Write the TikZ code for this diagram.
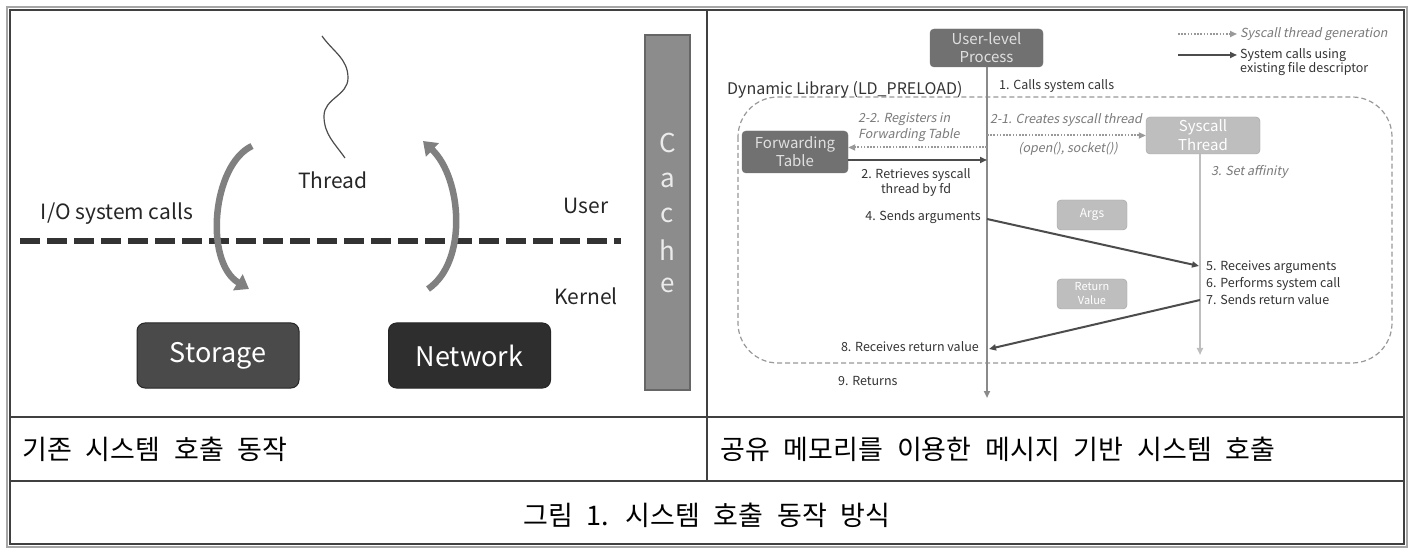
\documentclass[tikz,border=0pt]{standalone}
\usepackage{fontspec}
\setmainfont{Noto Sans CJK KR}[ItalicFont={Noto Sans CJK KR},ItalicFeatures={FakeSlant=0.2}]
\newfontfamily\capfont{Noto Sans CJK KR}[WordSpace=2.3]
\usepackage{tikz}
\usetikzlibrary{arrows.meta}
\definecolor{darkbox}{HTML}{4A4A4A}
\definecolor{blackbox}{HTML}{2E2E2E}
\definecolor{cachegray}{HTML}{8C8C8C}
\definecolor{procgray}{HTML}{717171}
\definecolor{lightbox}{HTML}{BEBEBE}
\definecolor{linegray}{HTML}{8A8A8A}
\definecolor{notegray}{HTML}{7A7A7A}
\definecolor{txt}{HTML}{333333}
\tikzset{
	devbox/.style   = {shape=rectangle, rounded corners=8pt, draw=black!85, line width=1pt,
		text=white, font=\fontsize{27}{30}\selectfont, minimum width=162pt, minimum height=65pt},
	procbox/.style  = {shape=rectangle, rounded corners=4pt, draw=black!55, fill=procgray,
		align=center, text=white!88!black, font=\fontsize{15}{18}\selectfont, inner sep=0pt},
	lightnode/.style= {shape=rectangle, rounded corners=4pt, draw=lightbox!85!black, fill=lightbox,
		align=center, text=white, inner sep=0pt},
	lbl/.style      = {font=\fontsize{21}{24}\selectfont, text=black!85, inner sep=0pt},
	step note/.style= {font=\fontsize{12.5}{15}\selectfont, text=txt, inner sep=0pt, align=left},
	gen note/.style = {font=\fontsize{12.5}{16}\selectfont\itshape, text=notegray, inner sep=0pt, align=left},
	bigarrow/.style = {draw=black!50, line width=6.5pt, -{Triangle[length=13pt,width=18pt]}},
	call/.style     = {draw=black!70, line width=2pt, -{Triangle[length=7pt,width=6pt]}},
	gen/.style      = {draw=black!40, line width=2pt, dash pattern=on 1.6pt off 1.6pt, -{Triangle[length=7pt,width=6pt]}},
	cell/.style     = {font=\capfont\fontsize{27}{30}\selectfont, text=black, inner sep=0pt}
}
\begin{document}
\begin{tikzpicture}[x=1pt, y=-1pt]
	\useasboundingbox (0,0) rectangle (1414,553);
	\fill[white] (0,0) rectangle (1414,553);

	% table
	\draw[gray!70, line width=1.4pt] (7,7) rectangle (1407,547);
	\draw[black!75, line width=1.4pt] (10,10) rectangle (1404,544);
	\draw[black!75, line width=1.4pt] (707,10) -- (707,481);
	\draw[black!75, line width=1.4pt] (10,417) -- (1404,417);
	\draw[black!75, line width=2.4pt] (10,481) -- (1404,481);

	% left panel
	\draw[black!80, line width=6pt, dash pattern=on 20pt off 7pt] (20,241) -- (621,241);
	\draw[black!70, line width=1.2pt] (322,36) to[out=-55,in=90] (348,78)
		to[out=-90,in=90] (324,116) to[out=-90,in=125] (345,158);
	\node[lbl] (thread) at (333,180) {Thread};
	\node[lbl] (iocalls) at (117,214) {I/O system calls};
	\node[lbl] (user) at (586,206) {User};
	\node[lbl] (kernel) at (586,296) {Kernel};
	\node[devbox, fill=darkbox] (storage) at (218,355.5) {Storage};
	\node[devbox, fill=blackbox] (network) at (469.5,355.5) {Network};
	\draw[bigarrow] (252,146) .. controls (212,165) and (204,262) .. (249,289);
	\draw[bigarrow] (428,289) .. controls (468,262) and (462,178) .. (423,141);
	\draw[fill=cachegray, draw=black!60, line width=1.4pt] (645,35) rectangle (690,390);
	\foreach \ch/\yy in {C/143, a/180, c/215, h/250, e/285}
		\node[text=white!92!black, font=\fontsize{26}{26}\selectfont] (cache\ch) at (667.5,\yy) {\ch};

	% right panel
	\node[procbox, minimum width=113pt, minimum height=38pt] (proc) at (986.5,48) {User-level\\Process};
	\draw[draw=black!40, line width=1.2pt, dash pattern=on 5pt off 3pt, rounded corners=40pt]
		(738,97) rectangle (1392,363);
	\node[step note, anchor=west, font=\fontsize{16}{18}\selectfont] (dynlib) at (727,90) {Dynamic Library (LD\_PRELOAD)};
	\node[procbox, minimum width=106pt, minimum height=42pt] (fwd) at (795,152) {Forwarding\\Table};
	\node[lightnode, minimum width=114pt, minimum height=37pt, font=\fontsize{15}{19}\selectfont] (sys) at (1203,135.5) {Syscall\\Thread};
	\node[lightnode, minimum width=70pt, minimum height=30pt, font=\fontsize{12}{14}\selectfont] (args) at (1092,215) {Args};
	\node[lightnode, minimum width=70pt, minimum height=30pt, font=\fontsize{11}{14}\selectfont] (retval) at (1092,294) {Return\\Value};

	\coordinate (mainend) at (987,398);
	\coordinate (sysend) at (1200,355);
	\coordinate (m1) at (987,135.5);
	\coordinate (m2) at (987,147.5);
	\coordinate (m3) at (987,160);
	\coordinate (m4) at (987,219);
	\coordinate (m8) at (989,349);
	\coordinate (s5) at (1199,266);
	\coordinate (s7) at (1200,300);

	\draw[draw=linegray, line width=2pt, -{Triangle[length=7pt,width=6pt]}] (proc.south -| mainend) -- (mainend);
	\draw[draw=lightbox, line width=2pt, -{Triangle[length=7pt,width=6pt]}] (sys.south -| sysend) -- (sysend);
	\draw[gen] (m1) -- (sys.west |- m1);
	\draw[gen] (m2) -- (fwd.east |- m2);
	\draw[call] (fwd.east |- m3) -- (m3);
	\draw[call] (m4) -- (s5);
	\draw[call] (s7) -- (m8);

	\node[step note, anchor=west] (n1) at (999,86) {1. Calls system calls};
	\node[gen note, anchor=west] (n22) at (858,127) {2-2. Registers in\\Forwarding Table};
	\node[gen note, anchor=west] (n21) at (990,120) {2-1. Creates syscall thread};
	\node[gen note, anchor=center] (n21b) at (1068,149) {(open(), socket())};
	\node[step note, align=center] (n2) at (916,182) {2. Retrieves syscall\\thread by fd};
	\node[gen note, anchor=west] (n3) at (1211,172) {3. Set affinity};
	\node[step note, anchor=east] (n4) at (981,217) {4. Sends arguments};
	\node[step note, anchor=west, font=\fontsize{12.5}{17}\selectfont] (n5) at (1206,283) {5. Receives arguments\\6. Performs system call\\7. Sends return value};
	\node[step note, anchor=east] (n8) at (979,347) {8. Receives return value};
	\node[step note, anchor=west] (n9) at (838,381) {9. Returns};

	% legend
	\coordinate (lg1) at (1178,34);
	\coordinate (lg2) at (1178,55);
	\draw[gen] (lg1) -- ++(59,0) coordinate (lg1e);
	\draw[call] (lg2) -- ++(59,0) coordinate (lg2e);
	\node[gen note, anchor=west] (leg1) at (1240,34) {Syscall thread generation};
	\node[step note, anchor=north west, font=\fontsize{12.5}{14}\selectfont] (leg2) at (1240,48) {System calls using\\existing file descriptor};

	% captions
	\node[cell, anchor=west] (capl) at (22,449) {기존 시스템 호출 동작};
	\node[cell, anchor=west] (capr) at (720,449) {공유 메모리를 이용한 메시지 기반 시스템 호출};
	\node[cell] (caption) at (707,515) {그림 1. 시스템 호출 동작 방식};
\end{tikzpicture}
\end{document}
